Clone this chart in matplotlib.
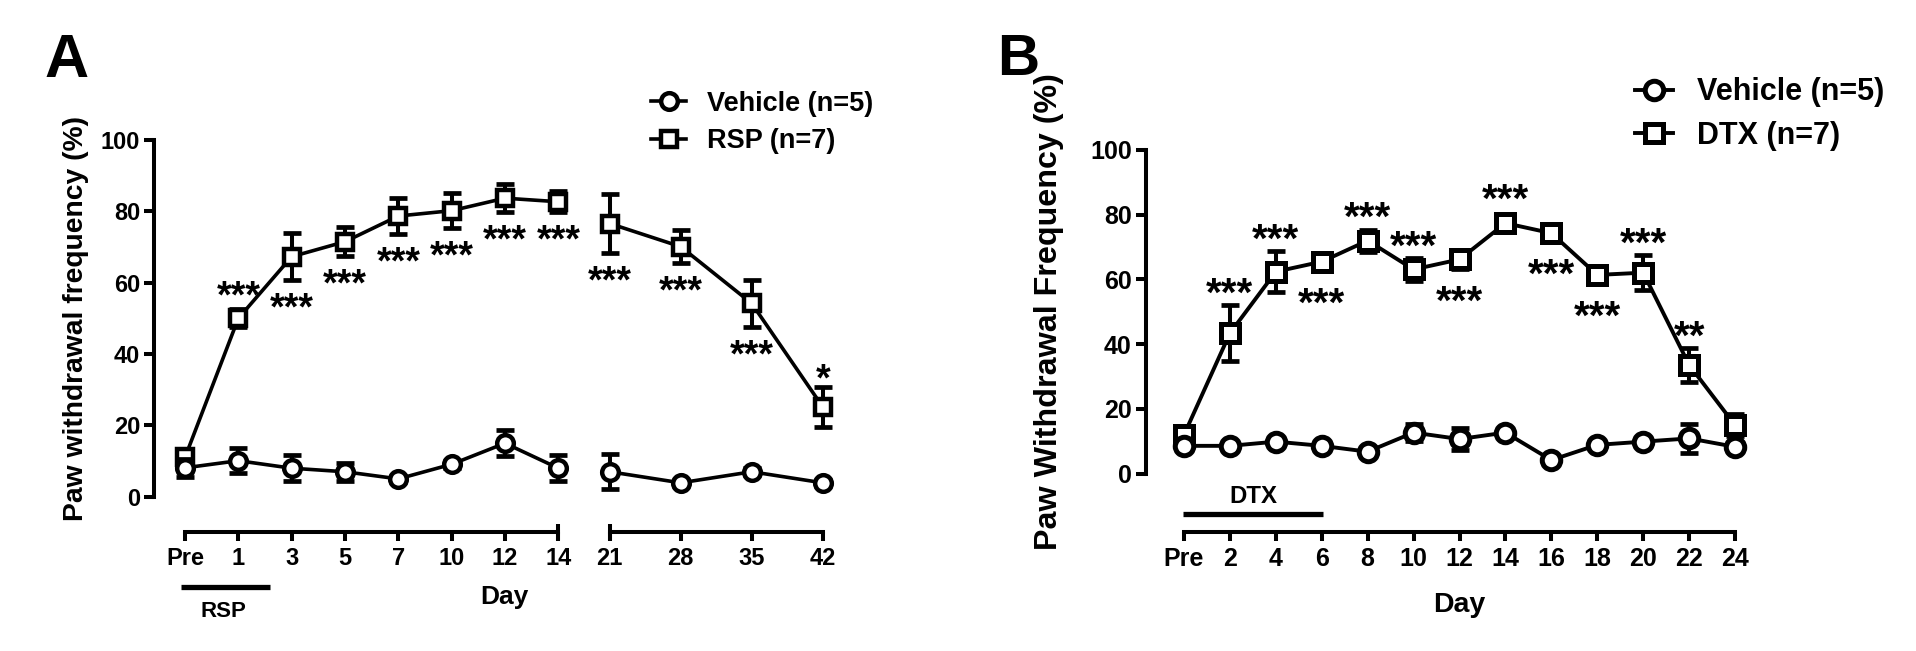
import matplotlib
matplotlib.use("Agg")
import matplotlib.pyplot as plt
import matplotlib.transforms as mtransforms
import numpy as np

plt.rcParams['font.family'] = ['Liberation Sans', 'DejaVu Sans']
plt.rcParams['font.weight'] = 'bold'

# ---------------- data: panel A ----------------
a_days_early = ['Pre', '1', '3', '5', '7', '10', '12', '14']
a_days_late = ['21', '28', '35', '42']
a_vehicle_early = [8.1, 10.1, 8.0, 7.0, 5.0, 9.1, 15.0, 8.0]
a_vehicle_early_sem = [2.5, 3.5, 3.6, 2.5, 0.8, 1.0, 3.7, 3.7]
a_vehicle_late = [7.0, 3.9, 7.0, 3.9]
a_vehicle_late_sem = [4.9, 0.8, 1.0, 0.8]
a_rsp_early = [11.0, 50.0, 67.3, 71.5, 78.7, 80.2, 83.7, 82.7]
a_rsp_early_sem = [2.0, 2.5, 6.5, 4.0, 5.0, 5.0, 4.0, 3.0]
a_rsp_late = [76.6, 70.1, 54.2, 25.2]
a_rsp_late_sem = [8.3, 4.7, 6.7, 5.6]
a_stars_early = ['', '***', '***', '***', '***', '***', '***', '***']
a_stars_early_side = ['', 'up', 'down', 'down', 'down', 'down', 'down', 'down']
a_stars_late = ['***', '***', '***', '*']
a_stars_late_side = ['down', 'down', 'down', 'up']
a_labels = ['Vehicle (n=5)', 'RSP (n=7)']

# ---------------- data: panel B ----------------
b_days = ['Pre', '2', '4', '6', '8', '10', '12', '14', '16', '18', '20', '22', '24']
b_vehicle = [8.6, 8.6, 9.9, 8.6, 6.8, 12.7, 10.7, 12.7, 4.2, 8.9, 9.9, 10.9, 8.3]
b_vehicle_sem = [1.0, 1.0, 1.0, 1.0, 1.0, 2.5, 3.5, 1.0, 1.0, 1.0, 1.0, 4.6, 1.0]
b_dtx = [12.0, 43.4, 62.4, 65.5, 72.0, 63.1, 66.2, 77.4, 74.3, 61.4, 62.1, 33.6, 15.0]
b_dtx_sem = [2.0, 8.7, 6.4, 2.0, 3.4, 3.5, 3.0, 2.0, 1.5, 2.0, 5.4, 5.3, 3.5]
b_stars = ['', '***', '***', '***', '***', '***', '***', '***', '***', '***', '***', '**', '']
b_stars_side = ['', 'up', 'up', 'down', 'up', 'up', 'down', 'up', 'down', 'down', 'up', 'up', '']
b_labels = ['Vehicle (n=5)', 'DTX (n=7)']

y_ticks = [0, 20, 40, 60, 80, 100]

# ---------------- layout ----------------
W, H = 1916, 651
fig = plt.figure(figsize=(W / 100, H / 100), dpi=100)


def px_rect(left, top, right, bottom):
    return [left / W, 1 - bottom / H, (right - left) / W, (bottom - top) / H]


axA1 = fig.add_axes(px_rect(154.2, 122.2, 585.0, 532.4))
axA2 = fig.add_axes(px_rect(588.4, 122.2, 844.0, 532.4))
axB = fig.add_axes(px_rect(1145.7, 133.8, 1753.4, 531.5))

LW_AX = 2.9


def style_axis(ax, labels, ylim, xlim, tick_fs, show_y=True, cap_left=False, cap_right=False):
    ax.set_ylim(*ylim)
    ax.set_xlim(*xlim)
    ax.patch.set_alpha(0)
    for s in ['top', 'right']:
        ax.spines[s].set_visible(False)
    n = len(labels)
    ax.set_xticks(np.arange(n))
    ax.set_xticklabels(labels, fontsize=tick_fs, fontweight='bold')
    ax.spines['bottom'].set_bounds(0, n - 1)
    ax.spines['bottom'].set_linewidth(LW_AX)
    ax.tick_params(axis='x', direction='out', length=6.8, width=LW_AX, pad=4)
    if show_y:
        ax.set_yticks(y_ticks)
        ax.set_yticklabels([str(t) for t in y_ticks], fontsize=tick_fs, fontweight='bold')
        ax.spines['left'].set_bounds(0, 100)
        ax.spines['left'].set_linewidth(LW_AX)
        ax.tick_params(axis='y', direction='out', length=7, width=LW_AX, pad=3)
    else:
        ax.spines['left'].set_visible(False)
        ax.set_yticks([])
    tr = ax.get_xaxis_transform()
    if cap_left:
        ax.plot([0], [0], transform=tr, marker='|', ms=12, mew=LW_AX, color='black', clip_on=False)
    if cap_right:
        ax.plot([n - 1], [0], transform=tr, marker='|', ms=12, mew=LW_AX, color='black', clip_on=False)


def draw_series(ax, mean, sem, marker, ms, mew, lw, z):
    x = np.arange(len(mean))
    ax.errorbar(x, mean, yerr=sem, fmt='none', ecolor='black', elinewidth=2.9,
                capsize=6.2, capthick=3.4, zorder=z, clip_on=False)
    line, = ax.plot(x, mean, color='black', lw=lw, marker=marker, ms=ms, mew=mew,
                    mfc='white', mec='black', zorder=z + 0.5, clip_on=False)
    return line


def draw_stars(ax, mean, sem, stars, sides, fs, half_px, gap_up, gap_down):
    y0 = ax.transData.transform((0, 0))[1]
    for i, (m, e, s, side) in enumerate(zip(mean, sem, stars, sides)):
        if not s:
            continue
        e_px = ax.transData.transform((0, e))[1] - y0
        sign = 1 if side == 'up' else -1
        d = max(e_px, half_px) + (gap_up if side == 'up' else gap_down)
        yref = m + sign * e
        off_px = sign * (d - e_px)
        # shift so that the ink of the asterisks is centred
        off_pt = off_px * 72 / 100 - 0.30 * fs
        ax.annotate(s, (i, yref), xytext=(0, off_pt), textcoords='offset points',
                    ha='center', va='center', fontsize=fs, fontweight='bold',
                    annotation_clip=False)


# ---------------- panel A ----------------
ylimA = (-10, 105)
style_axis(axA1, a_days_early, ylimA, (-0.577, 7.5), 17, show_y=True, cap_right=True)
style_axis(axA2, a_days_late, ylimA, (-0.3, 3.3), 17, show_y=False, cap_left=True)

rspA1 = draw_series(axA1, a_rsp_early, a_rsp_early_sem, 's', 12, 3.2, 2.6, 3)
vehA1 = draw_series(axA1, a_vehicle_early, a_vehicle_early_sem, 'o', 12, 3.2, 2.6, 5)
draw_series(axA2, a_rsp_late, a_rsp_late_sem, 's', 12, 3.2, 2.6, 3)
draw_series(axA2, a_vehicle_late, a_vehicle_late_sem, 'o', 12, 3.2, 2.6, 5)

draw_stars(axA1, a_rsp_early, a_rsp_early_sem, a_stars_early, a_stars_early_side, 27, 10, 22, 18)
draw_stars(axA2, a_rsp_late, a_rsp_late_sem, a_stars_late, a_stars_late_side, 27, 10, 18, 18)

trA = mtransforms.blended_transform_factory(axA1.transAxes, axA1.transData)
axA1.text(-0.181, 50, 'Paw withdrawal frequency (%)', transform=trA, rotation=90,
          ha='center', va='center', fontsize=20.3, fontweight='bold')

# treatment bar
axA1.plot([-0.07, 1.6], [-25.3, -25.3], color='black', lw=3.8, solid_capstyle='butt', clip_on=False)
axA1.text(0.72, -32.2, 'RSP', ha='center', va='center', fontsize=16, fontweight='bold')
fig.text(504 / W, 1 - 597 / H, 'Day', ha='center', va='center', fontsize=19, fontweight='bold')

fig.legend([vehA1, rspA1], a_labels, loc='center left', bbox_to_anchor=(651 / W, 1 - 122.4 / H),
           frameon=False, handlelength=1.3, handletextpad=0.75,
           labelspacing=0.42, borderpad=0, borderaxespad=0, numpoints=1,
           prop={'weight': 'bold', 'size': 19.5})

fig.text(67 / W, 1 - 77 / H, 'A', ha='center', va='baseline', fontsize=44, fontweight='bold')

# ---------------- panel B ----------------
ylimB = (-17.86, 105)
style_axis(axB, b_days, ylimB, (-0.834, 12.4), 18, show_y=True)
dtxB = draw_series(axB, b_dtx, b_dtx_sem, 's', 13.3, 3.6, 2.8, 3)
vehB = draw_series(axB, b_vehicle, b_vehicle_sem, 'o', 13.3, 3.6, 2.8, 5)
draw_stars(axB, b_dtx, b_dtx_sem, b_stars, b_stars_side, 29, 12, 22, 19)

trB = mtransforms.blended_transform_factory(axB.transAxes, axB.transData)
axB.text((1049 - 1145.7) / 607.7, 50, 'Paw Withdrawal Frequency (%)', transform=trB, rotation=90,
         ha='center', va='center', fontsize=23.2, fontweight='bold')

axB.plot([-0.03, 3.03], [-12.4, -12.4], color='black', lw=3.8, solid_capstyle='butt', clip_on=False)
axB.text(1.5, -6.9, 'DTX', ha='center', va='center', fontsize=17.3, fontweight='bold')
fig.text(1459 / W, 1 - 605 / H, 'Day', ha='center', va='center', fontsize=20.5, fontweight='bold')

fig.legend([vehB, dtxB], b_labels, loc='center left', bbox_to_anchor=(1635 / W, 1 - 114.2 / H),
           frameon=False, handlelength=1.25, handletextpad=0.78,
           labelspacing=0.45, borderpad=0, borderaxespad=0, numpoints=1,
           prop={'weight': 'bold', 'size': 22})

fig.text(1018 / W, 1 - 75 / H, 'B', ha='center', va='baseline', fontsize=42, fontweight='bold')

fig.savefig('out.png', dpi=100, facecolor='white')
